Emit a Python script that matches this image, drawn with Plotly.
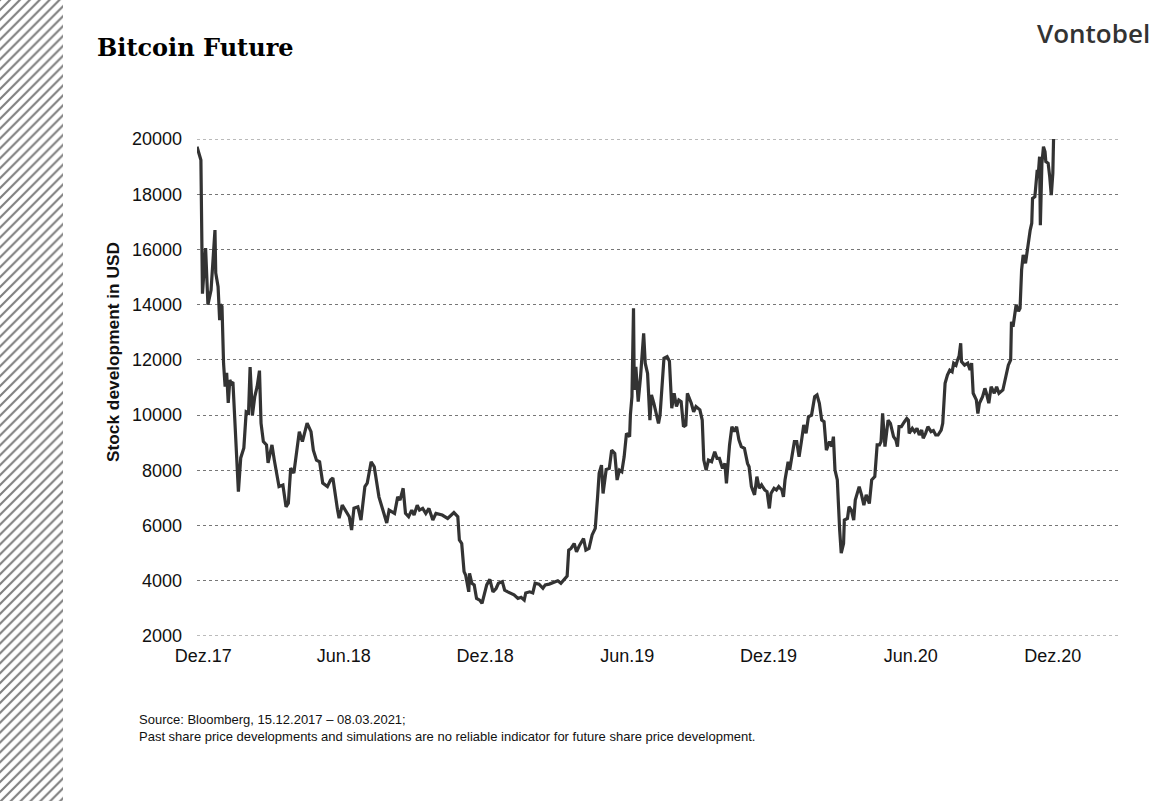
import pandas as pd
import plotly.graph_objects as go

# ---------------- data ----------------
start_date = "2017-12-14"
day_offset = [
    0, 5, 7, 11, 14, 18, 23, 24, 27, 29, 30, 32, 34, 36, 38, 40, 42, 44, 46, 48,
    50, 53, 56, 60, 63, 66, 68, 71, 74, 77, 80, 82, 85, 89, 91, 96, 99, 102, 105, 110,
    114, 117, 120, 124, 131, 135, 141, 146, 149, 153, 157, 161, 167, 171, 174, 180, 182, 186, 191, 195,
    198, 201, 206, 210, 215, 218, 223, 227, 233, 237, 240, 243, 246, 253, 257, 260, 264, 267, 271, 275,
    278, 282, 285, 289, 293, 297, 302, 306, 314, 321, 329, 334, 336, 339, 342, 344, 348, 349, 352, 355,
    358, 362, 365, 368, 371, 375, 379, 383, 386, 391, 394, 398, 402, 406, 411, 415, 419, 421, 426, 430,
    433, 438, 443, 446, 451, 458, 462, 466, 472, 474, 476, 479, 483, 486, 490, 495, 498, 502, 506, 510,
    513, 515, 518, 520, 524, 528, 531, 535, 538, 541, 544, 547, 550, 554, 555, 557, 559, 560, 562, 565,
    568, 572, 574, 577, 580, 582, 585, 588, 591, 593, 595, 598, 602, 605, 608, 611, 614, 617, 620, 623,
    626, 628, 633, 636, 639, 644, 647, 649, 652, 655, 659, 663, 666, 669, 673, 676, 678, 680, 682, 685,
    688, 691, 694, 697, 701, 705, 707, 710, 714, 717, 720, 723, 727, 730, 733, 735, 739, 742, 745, 749,
    751, 753, 755, 757, 759, 762, 765, 768, 771, 774, 777, 780, 783, 787, 791, 794, 797, 800, 803, 806,
    810, 813, 815, 817, 820, 823, 825, 828, 829, 833, 835, 838, 841, 843, 848, 851, 854, 857, 861, 864,
    868, 871, 874, 876, 878, 881, 885, 888, 892, 895, 897, 899, 902, 906, 909, 911, 912, 916, 919, 922,
    925, 928, 930, 933, 936, 940, 943, 946, 949, 953, 955, 958, 961, 964, 967, 969, 972, 974, 976, 978,
    979, 983, 987, 990, 992, 994, 998, 1000, 1002, 1006, 1009, 1011, 1014, 1017, 1021, 1024, 1027, 1032, 1037, 1039,
    1042, 1043, 1045, 1049, 1052, 1054, 1056, 1058, 1061, 1064, 1067, 1069, 1070, 1073, 1075, 1076, 1077, 1079, 1080, 1082,
    1084, 1086, 1087, 1090, 1092, 1094, 1096, 1097, 1099, 1113, 1121, 1135, 1152, 1165, 1180,
]
price_usd = [
    19720, 19240, 14400, 16050, 14000, 14530, 16700, 15150, 14650, 13440, 14000, 13940, 11880, 11030, 11530, 10440, 11270, 11150, 11200, 10000,
    8730, 7230, 8450, 8810, 10120, 10080, 11740, 10000, 10670, 11030, 11610, 9710, 9040, 8920, 8270, 8920, 8370, 7900, 7410, 7470,
    6680, 6810, 8080, 7900, 9400, 9040, 9710, 9400, 8730, 8370, 8310, 7540, 7410, 7650, 7720, 6560, 6270, 6740, 6500, 6320,
    5840, 6630, 6680, 6200, 7410, 7540, 8310, 8130, 7040, 6680, 6320, 6090, 6560, 6440, 7040, 6920, 7350, 6440, 6320, 6560,
    6380, 6740, 6560, 6620, 6440, 6620, 6200, 6440, 6380, 6260, 6470, 6320, 5480, 5350, 4330, 4210, 3600, 4270, 3910, 3850,
    3360, 3300, 3180, 3490, 3850, 4050, 3600, 3720, 3910, 3970, 3660, 3600, 3540, 3490, 3360, 3400, 3300, 3560, 3600, 3560,
    3910, 3880, 3730, 3850, 3880, 3970, 4000, 3910, 4090, 4170, 5110, 5170, 5350, 5050, 5290, 5530, 5110, 5170, 5660, 5900,
    7040, 7890, 8190, 7160, 8030, 8070, 8730, 8610, 7650, 8010, 7950, 8490, 9340, 9220, 10000, 10670, 13870, 10910, 11750, 10490,
    11390, 12960, 11880, 11510, 9820, 10730, 10430, 10000, 9700, 10000, 10790, 12060, 12120, 11950, 10250, 10790, 10310, 10550, 10490, 9580,
    9640, 10790, 10430, 10120, 10310, 10190, 9820, 8370, 8010, 8370, 8310, 8670, 8430, 8430, 8070, 8250, 7530, 8370, 8920, 9580,
    9400, 9580, 9100, 8860, 8800, 8250, 8130, 7410, 7110, 7770, 7350, 7470, 7290, 7230, 6620, 7160, 7350, 7290, 7410, 7290,
    7040, 7650, 8010, 8310, 8010, 8610, 9040, 9040, 8490, 9040, 9640, 9340, 9940, 10000, 10670, 10730, 10430, 9820, 9760, 8730,
    9040, 8860, 9220, 8010, 7650, 5840, 5000, 5350, 6200, 6260, 6680, 6560, 6200, 6920, 7410, 7110, 6740, 7110, 6800, 7650,
    7770, 8920, 8920, 9040, 10060, 8860, 9820, 9700, 9220, 9100, 8860, 9580, 9580, 9760, 9880, 9820, 9340, 9520, 9400, 9520,
    9280, 9460, 9160, 9340, 9580, 9400, 9440, 9280, 9280, 9460, 9700, 11150, 11450, 11630, 11570, 11880, 11810, 12000, 12150, 12600,
    11940, 11810, 11880, 11630, 11880, 10790, 10550, 10060, 10430, 10670, 10970, 10790, 10430, 11030, 10790, 11030, 10790, 10910, 11630, 11810,
    12000, 13380, 13200, 14000, 13760, 13870, 15260, 15800, 15500, 16220, 16700, 16950, 17850, 17910, 18820, 18880, 18580, 19360, 16880, 19120,
    19720, 19540, 19180, 19120, 18640, 17970, 18760, 19960, 22800, 28900, 40000, 32500, 46500, 57000, 51000,
]
x_tick_dates = ["2017-12-22", "2018-06-20", "2018-12-18", "2019-06-18",
                "2019-12-16", "2020-06-15", "2020-12-14"]
x_tick_labels = ["Dez.17", "Jun.18", "Dez.18", "Jun.19", "Dez.19", "Jun.20", "Dez.20"]
y_ticks = [2000, 4000, 6000, 8000, 10000, 12000, 14000, 16000, 18000, 20000]
x_range = ["2017-12-14", "2021-03-10"]
y_range = [2000, 20000]

dates = pd.Timestamp(start_date) + pd.to_timedelta(day_offset, unit="D")

W, H = 1176, 801

def px(x):
    return x / W

def py(y):
    return 1 - y / H

fig = go.Figure()

# main price line
fig.add_trace(go.Scatter(
    x=dates, y=price_usd, mode="lines",
    line=dict(color="#333333", width=3.2),
    hoverinfo="skip", showlegend=False,
))

# hatched strip on the left
fig.add_trace(go.Scatter(
    x=[0, 1, 1, 0, 0], y=[0, 0, 1, 1, 0],
    xaxis="x2", yaxis="y2", mode="lines", fill="toself",
    line=dict(width=0, color="rgba(0,0,0,0)"),
    fillcolor="white",
    fillpattern=dict(shape="/", size=7, solidity=0.3, fgcolor="#000000", bgcolor="white"),
    hoverinfo="skip", showlegend=False,
))

# dotted grid lines at the two ends of the value range (plotly omits edge grid lines)
for yv in (y_range[0], y_range[1]):
    fig.add_shape(type="line", xref="x domain", yref="y", x0=0, x1=1, y0=yv, y1=yv,
                  line=dict(color="#777777", width=1, dash="dot"), layer="below")

fig.update_layout(
    width=W, height=H,
    margin=dict(l=0, r=0, t=0, b=0, autoexpand=False),
    showlegend=False,
    paper_bgcolor="white", plot_bgcolor="white",
    xaxis=dict(
        domain=[px(197), px(1120)],
        type="date", range=x_range,
        tickvals=x_tick_dates, ticktext=x_tick_labels,
        showgrid=False, showline=False, zeroline=False,
        ticks="", ticklabelstandoff=7, automargin=False,
        tickfont=dict(family="Liberation Sans, Arial", size=18, color="#111111"),
    ),
    yaxis=dict(
        domain=[py(636), py(139)],
        range=y_range,
        tickvals=y_ticks, tickformat="d",
        showgrid=True, gridcolor="#777777", griddash="dot", gridwidth=1,
        showline=False, zeroline=False,
        ticks="", ticklabelstandoff=14, automargin=False,
        tickfont=dict(family="Liberation Sans, Arial", size=18, color="#111111"),
    ),
    xaxis2=dict(domain=[0, px(63)], range=[0, 1], visible=False, fixedrange=True, automargin=False),
    yaxis2=dict(domain=[0, 1], range=[0, 1], visible=False, fixedrange=True, anchor="x2", automargin=False),
    annotations=[
        dict(text="<b>Bitcoin Future</b>", x=px(95), y=py(47), xref="paper", yref="paper",
             xanchor="left", yanchor="middle", showarrow=False,
             font=dict(family="DejaVu Serif, Georgia, serif", size=24, color="#000000")),
        dict(text="Vontobel", x=px(1152), y=py(33), xref="paper", yref="paper",
             xanchor="right", yanchor="middle", showarrow=False,
             font=dict(family="Open Sans, Arial", size=26, color="#333333", weight=600)),
        dict(text="<b>Stock development in USD</b>", x=px(113), y=py(352), xref="paper", yref="paper",
             xanchor="center", yanchor="middle", textangle=-90, showarrow=False,
             font=dict(family="Liberation Sans, Arial", size=17.3, color="#111111")),
        dict(text="Source: Bloomberg, 15.12.2017 – 08.03.2021;", x=px(137), y=py(719),
             xref="paper", yref="paper", xanchor="left", yanchor="middle", showarrow=False,
             font=dict(family="Liberation Sans, Arial", size=13, color="#111111")),
        dict(text="Past share price developments and simulations are no reliable indicator for future share price development.",
             x=px(137), y=py(736), xref="paper", yref="paper", xanchor="left", yanchor="middle", showarrow=False,
             font=dict(family="Liberation Sans, Arial", size=13, color="#111111")),
    ],
)

fig.write_html("out.html")
